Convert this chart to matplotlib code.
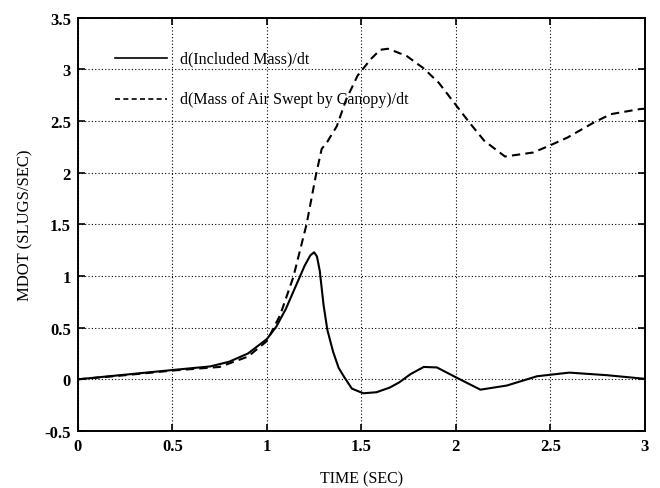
import numpy as np
import matplotlib.pyplot as plt

plt.rcParams['font.family'] = ['Liberation Serif', 'DejaVu Serif']

# d(Included Mass)/dt
t_inc = [0, 0.25, 0.5, 0.7, 0.8, 0.9, 1.0, 1.05, 1.1, 1.15, 1.2, 1.23, 1.25, 1.265, 1.28,
         1.30, 1.32, 1.35, 1.38, 1.41, 1.45, 1.51, 1.58, 1.65, 1.70, 1.76, 1.83, 1.90,
         2.0, 2.13, 2.27, 2.43, 2.60, 2.80, 3.0]
m_inc = [0, 0.045, 0.09, 0.125, 0.17, 0.25, 0.39, 0.51, 0.68, 0.89, 1.10, 1.20, 1.23, 1.19, 1.05,
         0.72, 0.48, 0.27, 0.11, 0.02, -0.09, -0.135, -0.125, -0.08, -0.03, 0.05, 0.12, 0.115,
         0.02, -0.10, -0.06, 0.03, 0.065, 0.04, 0.005]

# d(Mass of Air Swept by Canopy)/dt
t_air = [0, 0.25, 0.5, 0.75, 0.9, 1.0, 1.07, 1.14, 1.21, 1.26, 1.29, 1.32, 1.37, 1.42,
         1.48, 1.55, 1.60, 1.64, 1.67, 1.74, 1.83, 1.91, 1.99, 2.07, 2.15, 2.26, 2.41,
         2.50, 2.59, 2.73, 2.82, 2.97, 3.0]
m_air = [0, 0.04, 0.085, 0.12, 0.22, 0.37, 0.62, 0.99, 1.50, 1.98, 2.23, 2.30, 2.45, 2.71,
         2.94, 3.10, 3.19, 3.20, 3.18, 3.13, 3.01, 2.87, 2.68, 2.49, 2.31, 2.157, 2.196,
         2.266, 2.34, 2.486, 2.567, 2.615, 2.62]

xticks = [0, 0.5, 1, 1.5, 2, 2.5, 3]
xlabs = ['0', '0.5', '1', '1.5', '2', '2.5', '3']
yticks = [-0.5, 0, 0.5, 1, 1.5, 2, 2.5, 3, 3.5]
ylabs = ['-0.5', '0', '0.5', '1', '1.5', '2', '2.5', '3', '3.5']

fig = plt.figure(figsize=(6.6, 4.89), dpi=100)
ax = fig.add_axes([0.118, 0.1166, 0.859, 0.845])

ax.plot(t_inc, m_inc, color='black', lw=1.5)
ax.plot(t_air, m_air, color='black', lw=1.5, dashes=(4, 2.5))

# legend drawn by hand (matlab style, no box)
ax.plot([0.195, 0.47], [3.11, 3.11], color='black', lw=1.2)
ax.plot([0.195, 0.47], [2.71, 2.71], color='black', lw=1.2, dashes=(3, 2))
ax.text(0.54, 3.11, 'd(Included Mass)/dt', fontsize=11.5, va='center', ha='left')
ax.text(0.54, 2.71, 'd(Mass of Air Swept by Canopy)/dt', fontsize=11.5, va='center', ha='left')

ax.set_xlim(0, 3)
ax.set_ylim(-0.5, 3.5)
ax.set_xticks(xticks)
ax.set_xticklabels(xlabs, fontsize=12, fontweight='bold')
ax.set_yticks(yticks)
ax.set_yticklabels(ylabs, fontsize=12, fontweight='bold')
ax.tick_params(direction='in', length=5, width=1.2, top=True, right=True, pad=5)
ax.grid(True, color='black', linestyle=(0, (1, 2)), linewidth=0.8)
for s in ax.spines.values():
    s.set_linewidth(1.4)

ax.set_xlabel('TIME (SEC)', fontsize=11.5, labelpad=12)
ax.set_ylabel('MDOT (SLUGS/SEC)', fontsize=12, labelpad=8)

plt.savefig('out.png', dpi=100)
